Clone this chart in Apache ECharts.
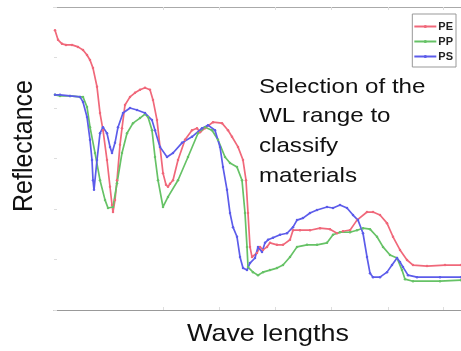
<!DOCTYPE html>
<html><head><meta charset="utf-8">
<script src="https://cdn.jsdelivr.net/npm/echarts@6/dist/echarts.min.js"></script>
<style>html,body{margin:0;padding:0;background:#fff}#c{width:461px;height:351px}</style>
</head><body><div id="c"></div>
<script>
const seriesNames = ['PE', 'PP', 'PS'];
const peWl = [1004,1016,1032,1048,1072,1096,1116,1132,1144,1156,1172,1184,1196,1212,1224,1232,1236,1244,1252,1264,1272,1284,1304,1324,1344,1364,1384,1396,1412,1424,1436,1448,1456,1464,1476,1496,1524,1552,1572,1584,1604,1636,1672,1696,1712,1736,1756,1768,1776,1784,1792,1812,1824,1836,1852,1864,1892,1916,1944,1956,1984,2024,2064,2104,2132,2156,2184,2212,2252,2276,2304,2332,2356,2384,2412,2436,2492,2564,2628];
const peRef = [55.4,53.5,52.7,52.5,52.5,52.1,51.5,50.5,49.5,47.9,44.2,39.0,35.6,29.7,24.4,20.8,19.4,21.8,25.7,32.7,36.0,40.6,42.2,43.0,43.6,44.0,43.6,41.6,37.6,32.3,27.1,24.8,24.4,25.0,25.7,29.7,33.7,35.6,36.0,35.2,36.0,37.2,37.0,35.6,34.3,32.3,29.7,25.7,19.2,12.5,10.5,11.3,12.5,11.9,12.5,13.3,12.9,12.9,13.9,15.8,15.8,15.8,16.2,16.0,15.2,15.6,15.8,17.8,19.4,19.4,18.8,17.2,14.5,11.9,9.9,8.9,8.7,8.9,8.9];
const ppWl = [1004,1024,1064,1104,1116,1132,1144,1164,1184,1204,1216,1236,1252,1272,1292,1316,1344,1364,1376,1392,1404,1416,1436,1456,1496,1536,1576,1604,1632,1656,1684,1704,1732,1752,1764,1772,1776,1796,1816,1836,1864,1892,1916,1944,1972,2012,2052,2092,2116,2144,2184,2212,2236,2264,2292,2316,2344,2372,2392,2404,2436,2544,2628];
const ppRef = [42.6,42.4,42.4,42.2,42.2,40.2,36.2,31.1,25.7,21.8,20.2,20.4,25.1,31.1,35.0,37.0,38.0,38.8,38.2,35.6,30.3,25.7,20.4,22.4,25.7,30.3,35.0,36.2,35.6,33.7,30.3,29.1,28.3,25.7,19.2,12.5,8.5,7.5,6.9,7.5,7.9,8.3,8.9,10.5,12.5,12.9,12.9,13.3,14.9,15.4,15.4,15.8,16.2,16.0,14.5,12.5,10.9,10.3,7.9,6.1,5.7,5.7,5.9];
const psWl = [1004,1024,1064,1104,1116,1132,1144,1152,1156,1160,1172,1184,1196,1212,1224,1232,1244,1256,1276,1304,1332,1364,1392,1404,1424,1452,1476,1512,1552,1592,1616,1644,1664,1676,1692,1704,1716,1732,1744,1756,1772,1784,1804,1816,1832,1844,1856,1876,1904,1932,1956,1972,1996,2024,2052,2092,2116,2144,2172,2196,2216,2236,2252,2264,2276,2304,2332,2352,2372,2384,2396,2416,2452,2544,2628];
const psRef = [42.6,42.6,42.4,42.2,41.2,38.2,33.7,29.7,25.7,23.8,29.7,35.0,36.2,35.0,32.3,31.1,33.1,36.2,39.0,40.0,39.6,39.0,37.6,35.6,32.3,30.3,31.1,33.1,34.3,36.0,36.6,35.6,32.3,28.3,23.8,19.2,16.4,14.5,10.5,8.3,7.9,9.3,10.3,12.5,11.5,13.3,13.9,14.3,14.9,15.2,16.4,17.8,18.2,19.2,19.8,20.4,20.2,20.8,20.2,18.8,17.8,15.2,10.5,7.3,6.5,6.5,7.5,8.9,10.3,9.5,8.5,6.9,6.5,6.5,6.5];
const xTickValues = [1436,1660,1884,2108,2336,2556];
const annotationLines = ['Selection of the', 'WL range to', 'classify', 'materials'];
const xTitle = 'Wave lengths';
const yTitle = 'Reflectance';

const colors = ['#f0687a', '#66c266', '#5c5cea'];
const zip = (a, b) => a.map((v, i) => [v, b[i]]);
const datasets = [zip(peWl, peRef), zip(ppWl, ppRef), zip(psWl, psRef)];
const FONT = '"Liberation Sans", Arial, sans-serif';

const chart = echarts.init(document.getElementById('c'), null, {renderer: 'canvas'});
const annGraphics = annotationLines.map((t, i) => ({
  type: 'text', x: 259, y: 87 + i * 29.7, scaleX: 1.15,
  style: {text: t, font: '21px ' + FONT, fill: '#111', textVerticalAlign: 'middle', textAlign: 'left'}
}));
chart.setOption({
  animation: false,
  color: colors,
  grid: {left: 54, right: 0, top: 7, bottom: 41},
  legend: {
    data: seriesNames, orient: 'vertical', right: 5, top: 14,
    itemWidth: 22, itemHeight: 4, itemGap: 4, padding: [7, 3, 5, 1],
    borderColor: '#999', borderWidth: 1, backgroundColor: '#fff',
    textStyle: {fontSize: 11, fontWeight: 'bold', color: '#222', fontFamily: FONT, padding: [0, 0, 0, -3]}
  },
  xAxis: [{
    type: 'value', min: 1000, max: 2628, position: 'bottom',
    axisLine: {show: true, lineStyle: {color: '#999', width: 1.2}},
    axisTick: {show: true, inside: true, length: 3, customValues: xTickValues, lineStyle: {color: '#ddd'}},
    axisLabel: {show: false}, splitLine: {show: false}
  }, {
    type: 'value', min: 1000, max: 2628, position: 'top',
    axisLine: {show: true, lineStyle: {color: '#aaa', width: 1}},
    axisTick: {show: true, inside: true, length: 3, customValues: xTickValues, lineStyle: {color: '#ddd'}},
    axisLabel: {show: false}, splitLine: {show: false}
  }],
  yAxis: {
    type: 'value', min: 0, max: 60, interval: 10,
    axisLine: {show: false},
    axisTick: {show: true, inside: true, length: 3, lineStyle: {color: '#ddd'}},
    axisLabel: {show: false}, splitLine: {show: false}
  },
  series: seriesNames.map((n, i) => ({
    name: n, type: 'line', data: datasets[i], xAxisIndex: 0,
    symbol: 'circle', symbolSize: 2.5, showAllSymbol: true,
    lineStyle: {width: 1.7, color: colors[i]}, itemStyle: {color: colors[i]},
    clip: true
  })),
  graphic: annGraphics.concat([
    {type: 'text', x: 268, y: 334, scaleX: 1.12,
     style: {text: xTitle, font: '24px ' + FONT, fill: '#111', textAlign: 'center', textVerticalAlign: 'middle'}},
    {type: 'text', x: 24, y: 146, rotation: Math.PI / 2, scaleY: 1.1,
     style: {text: yTitle, font: '25px ' + FONT, fill: '#111', textAlign: 'center', textVerticalAlign: 'middle'}}
  ])
});
</script></body></html>
